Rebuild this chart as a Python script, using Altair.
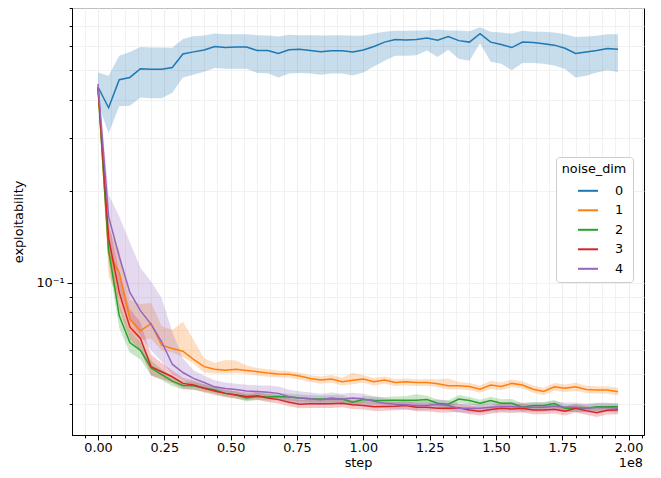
import altair as alt
import pandas as pd

# x positions (training steps) shared by every series
steps = list(range(0, 200_000_000, 4_000_000))

series = ["0", "1", "2", "3", "4"]
colors = ["#1f77b4", "#ff7f0e", "#2ca02c", "#d62728", "#9467bd"]

mean_0 = [0.440, 0.376, 0.465, 0.473, 0.505, 0.503, 0.503, 0.510, 0.565, 0.574,
          0.582, 0.598, 0.593, 0.595, 0.595, 0.580, 0.580, 0.567, 0.583, 0.585,
          0.580, 0.574, 0.579, 0.579, 0.573, 0.582, 0.598, 0.618, 0.630, 0.628,
          0.630, 0.637, 0.627, 0.645, 0.625, 0.618, 0.659, 0.618, 0.607, 0.593,
          0.618, 0.616, 0.610, 0.604, 0.590, 0.567, 0.573, 0.580, 0.589, 0.585]
hi_0 = [0.491, 0.479, 0.557, 0.573, 0.595, 0.593, 0.593, 0.592, 0.633, 0.646,
        0.650, 0.659, 0.656, 0.656, 0.656, 0.651, 0.650, 0.645, 0.653, 0.651,
        0.651, 0.650, 0.651, 0.651, 0.648, 0.650, 0.659, 0.669, 0.673, 0.673,
        0.675, 0.675, 0.680, 0.675, 0.675, 0.671, 0.692, 0.669, 0.664, 0.659,
        0.673, 0.669, 0.668, 0.664, 0.656, 0.642, 0.645, 0.648, 0.656, 0.656]
lo_0 = [0.390, 0.310, 0.380, 0.382, 0.406, 0.404, 0.404, 0.421, 0.473, 0.483,
        0.494, 0.508, 0.505, 0.505, 0.505, 0.489, 0.488, 0.473, 0.487, 0.489,
        0.487, 0.483, 0.487, 0.487, 0.480, 0.491, 0.514, 0.537, 0.557, 0.557,
        0.560, 0.580, 0.552, 0.583, 0.545, 0.537, 0.613, 0.533, 0.525, 0.499,
        0.528, 0.528, 0.525, 0.518, 0.504, 0.473, 0.479, 0.491, 0.499, 0.493]

mean_1 = [0.440, 0.125, 0.108, 0.0760, 0.0695, 0.0734, 0.0624, 0.0608, 0.0596, 0.0560,
          0.0530, 0.0520, 0.0516, 0.0520, 0.0515, 0.0510, 0.0505, 0.0501, 0.0500, 0.0494,
          0.0485, 0.0479, 0.0483, 0.0473, 0.0478, 0.0483, 0.0473, 0.0479, 0.0470, 0.0473,
          0.0470, 0.0470, 0.0466, 0.0459, 0.0459, 0.0456, 0.0447, 0.0461, 0.0456, 0.0467,
          0.0461, 0.0447, 0.0439, 0.0455, 0.0450, 0.0455, 0.0446, 0.0444, 0.0444, 0.0438]
hi_1 = [0.460, 0.150, 0.128, 0.0880, 0.0850, 0.0860, 0.0720, 0.0700, 0.0745, 0.0650,
        0.0565, 0.0545, 0.0557, 0.0555, 0.0535, 0.0525, 0.0520, 0.0515, 0.0513, 0.0506,
        0.0497, 0.0492, 0.0498, 0.0487, 0.0506, 0.0497, 0.0486, 0.0492, 0.0482, 0.0485,
        0.0482, 0.0483, 0.0482, 0.0485, 0.0472, 0.0468, 0.0460, 0.0476, 0.0470, 0.0481,
        0.0475, 0.0460, 0.0452, 0.0468, 0.0463, 0.0469, 0.0459, 0.0457, 0.0457, 0.0451]
lo_1 = [0.420, 0.105, 0.088, 0.0689, 0.0647, 0.0656, 0.0598, 0.0590, 0.0570, 0.0543,
        0.0507, 0.0503, 0.0502, 0.0505, 0.0501, 0.0496, 0.0491, 0.0488, 0.0487, 0.0481,
        0.0472, 0.0466, 0.0469, 0.0460, 0.0464, 0.0469, 0.0460, 0.0466, 0.0458, 0.0460,
        0.0458, 0.0458, 0.0454, 0.0446, 0.0447, 0.0444, 0.0435, 0.0448, 0.0443, 0.0454,
        0.0449, 0.0435, 0.0427, 0.0442, 0.0437, 0.0442, 0.0434, 0.0432, 0.0432, 0.0426]

mean_2 = [0.435, 0.128, 0.078, 0.0636, 0.0600, 0.0525, 0.0499, 0.0475, 0.0460, 0.0459,
          0.0451, 0.0444, 0.0433, 0.0428, 0.0418, 0.0423, 0.0421, 0.0423, 0.0421, 0.0418,
          0.0416, 0.0415, 0.0415, 0.0415, 0.0405, 0.0413, 0.0411, 0.0410, 0.0411, 0.0411,
          0.0411, 0.0413, 0.0402, 0.0399, 0.0415, 0.0410, 0.0402, 0.0410, 0.0402, 0.0402,
          0.0390, 0.0395, 0.0395, 0.0401, 0.0387, 0.0387, 0.0387, 0.0391, 0.0391, 0.0391]
hi_2 = [0.450, 0.140, 0.086, 0.0690, 0.0640, 0.0555, 0.0520, 0.0492, 0.0475, 0.0472,
        0.0463, 0.0456, 0.0444, 0.0439, 0.0429, 0.0434, 0.0432, 0.0434, 0.0432, 0.0429,
        0.0427, 0.0426, 0.0427, 0.0427, 0.0416, 0.0424, 0.0422, 0.0421, 0.0423, 0.0424,
        0.0430, 0.0425, 0.0413, 0.0410, 0.0428, 0.0421, 0.0413, 0.0422, 0.0414, 0.0415,
        0.0401, 0.0406, 0.0406, 0.0412, 0.0398, 0.0398, 0.0398, 0.0402, 0.0402, 0.0402]
lo_2 = [0.420, 0.116, 0.071, 0.0590, 0.0560, 0.0497, 0.0479, 0.0458, 0.0446, 0.0446,
        0.0439, 0.0432, 0.0422, 0.0417, 0.0407, 0.0412, 0.0410, 0.0412, 0.0410, 0.0407,
        0.0405, 0.0404, 0.0404, 0.0404, 0.0394, 0.0402, 0.0400, 0.0399, 0.0400, 0.0400,
        0.0400, 0.0402, 0.0391, 0.0388, 0.0403, 0.0399, 0.0391, 0.0399, 0.0391, 0.0391,
        0.0379, 0.0384, 0.0384, 0.0390, 0.0376, 0.0376, 0.0376, 0.0380, 0.0380, 0.0380]

mean_3 = [0.440, 0.140, 0.093, 0.0716, 0.0656, 0.0530, 0.0510, 0.0491, 0.0467, 0.0461,
          0.0450, 0.0441, 0.0433, 0.0428, 0.0423, 0.0425, 0.0418, 0.0413, 0.0405, 0.0399,
          0.0400, 0.0400, 0.0400, 0.0402, 0.0397, 0.0395, 0.0391, 0.0392, 0.0393, 0.0395,
          0.0390, 0.0390, 0.0387, 0.0387, 0.0388, 0.0382, 0.0378, 0.0383, 0.0387, 0.0385,
          0.0387, 0.0382, 0.0382, 0.0384, 0.0378, 0.0387, 0.0380, 0.0374, 0.0381, 0.0382]
hi_3 = [0.455, 0.160, 0.108, 0.0820, 0.0740, 0.0580, 0.0545, 0.0515, 0.0487, 0.0478,
        0.0465, 0.0455, 0.0446, 0.0441, 0.0436, 0.0438, 0.0431, 0.0426, 0.0418, 0.0412,
        0.0413, 0.0413, 0.0413, 0.0415, 0.0410, 0.0408, 0.0404, 0.0405, 0.0406, 0.0408,
        0.0403, 0.0403, 0.0400, 0.0400, 0.0401, 0.0395, 0.0391, 0.0396, 0.0400, 0.0398,
        0.0400, 0.0395, 0.0395, 0.0397, 0.0391, 0.0400, 0.0393, 0.0387, 0.0394, 0.0395]
lo_3 = [0.425, 0.125, 0.082, 0.0650, 0.0600, 0.0495, 0.0482, 0.0468, 0.0449, 0.0445,
        0.0436, 0.0428, 0.0421, 0.0416, 0.0411, 0.0413, 0.0406, 0.0401, 0.0393, 0.0387,
        0.0388, 0.0388, 0.0388, 0.0390, 0.0385, 0.0383, 0.0379, 0.0380, 0.0381, 0.0383,
        0.0378, 0.0378, 0.0375, 0.0375, 0.0376, 0.0370, 0.0366, 0.0371, 0.0375, 0.0373,
        0.0375, 0.0370, 0.0370, 0.0372, 0.0366, 0.0375, 0.0368, 0.0362, 0.0369, 0.0370]

mean_4 = [0.450, 0.165, 0.122, 0.0930, 0.0810, 0.0730, 0.0640, 0.0540, 0.0507, 0.0485,
          0.0470, 0.0455, 0.0449, 0.0446, 0.0441, 0.0439, 0.0437, 0.0433, 0.0422, 0.0418,
          0.0416, 0.0413, 0.0418, 0.0414, 0.0418, 0.0415, 0.0408, 0.0402, 0.0399, 0.0397,
          0.0395, 0.0395, 0.0399, 0.0395, 0.0387, 0.0387, 0.0387, 0.0390, 0.0391, 0.0391,
          0.0390, 0.0390, 0.0390, 0.0393, 0.0390, 0.0390, 0.0387, 0.0389, 0.0389, 0.0387]
hi_4 = [0.465, 0.195, 0.165, 0.1360, 0.1120, 0.1010, 0.0890, 0.0690, 0.0565, 0.0516,
        0.0495, 0.0478, 0.0470, 0.0466, 0.0462, 0.0460, 0.0460, 0.0456, 0.0445, 0.0440,
        0.0436, 0.0432, 0.0436, 0.0432, 0.0435, 0.0432, 0.0424, 0.0417, 0.0413, 0.0411,
        0.0409, 0.0409, 0.0414, 0.0410, 0.0401, 0.0401, 0.0401, 0.0404, 0.0405, 0.0405,
        0.0404, 0.0404, 0.0404, 0.0407, 0.0404, 0.0404, 0.0401, 0.0403, 0.0403, 0.0401]
lo_4 = [0.435, 0.140, 0.095, 0.0760, 0.0670, 0.0600, 0.0550, 0.0500, 0.0478, 0.0462,
        0.0450, 0.0437, 0.0431, 0.0428, 0.0423, 0.0421, 0.0419, 0.0415, 0.0405, 0.0401,
        0.0399, 0.0396, 0.0401, 0.0397, 0.0401, 0.0398, 0.0392, 0.0387, 0.0385, 0.0383,
        0.0381, 0.0381, 0.0385, 0.0381, 0.0374, 0.0374, 0.0374, 0.0377, 0.0378, 0.0378,
        0.0377, 0.0377, 0.0377, 0.0380, 0.0377, 0.0377, 0.0374, 0.0376, 0.0376, 0.0374]

x_major_ticks = [0, 25_000_000, 50_000_000, 75_000_000, 100_000_000,
                 125_000_000, 150_000_000, 175_000_000, 200_000_000]
x_minor_ticks = list(range(-5_000_000, 206_000_000, 5_000_000))
y_major_ticks = [0.1]
y_minor_ticks = [0.04, 0.05, 0.06, 0.07, 0.08, 0.09, 0.2, 0.3, 0.4, 0.5, 0.6, 0.7, 0.8]
x_domain = [-9_800_000, 205_800_000]
y_domain = [0.0316, 0.80]

means = [mean_0, mean_1, mean_2, mean_3, mean_4]
his = [hi_0, hi_1, hi_2, hi_3, hi_4]
los = [lo_0, lo_1, lo_2, lo_3, lo_4]

rows = []
for s, m, h, l in zip(series, means, his, los):
    for st, mv, hv, lv in zip(steps, m, h, l):
        rows.append({"step": st, "mean": mv, "hi": hv, "lo": lv, "noise_dim": s})
df = pd.DataFrame(rows)

FONT = "DejaVu Sans"
FS = 12.8
xs = alt.Scale(domain=x_domain, nice=False, zero=False)
ys = alt.Scale(type="log", domain=y_domain, nice=False)
cs = alt.Scale(domain=series, range=colors)

legend = alt.Legend(
    title="noise_dim", orient="none", legendX=484, legendY=149,
    symbolType="stroke", symbolSize=400, symbolStrokeWidth=2, symbolOpacity=1,
    symbolOffset=13, labelOffset=16, rowPadding=1.5, padding=6,
    titlePadding=4, titleAnchor="middle",
    labelFont=FONT, titleFont=FONT, labelFontSize=FS, titleFontSize=FS,
    titleFontWeight="normal", labelColor="black", titleColor="black",
    strokeColor="#cccccc", fillColor="white", cornerRadius=3,
)

x_major_axis = alt.Axis(values=x_major_ticks, labelExpr="format(datum.value / 1e8, '.2f')",
                        title="step", orient="bottom", tickSize=4.9, labelPadding=1.5,
                        titlePadding=2, grid=True)
y_major_axis = alt.Axis(values=y_major_ticks, labelExpr="'10⁻¹'", title="exploitability",
                        orient="left", tickSize=4.9, labelPadding=3, titlePadding=10, grid=True)
x_minor_axis = alt.Axis(values=x_minor_ticks, labels=False, title=None, orient="bottom",
                        tickSize=2.8, grid=True, domain=False)
y_minor_axis = alt.Axis(values=y_minor_ticks, labels=False, title=None, orient="left",
                        tickSize=2.8, grid=True, domain=False)

base = alt.Chart(df)

band = base.mark_area(opacity=0.25).encode(
    x=alt.X("step:Q", scale=xs, axis=x_major_axis),
    y=alt.Y("lo:Q", scale=ys, axis=y_major_axis),
    y2="hi:Q",
    color=alt.Color("noise_dim:N", scale=cs, legend=legend),
    detail="noise_dim:N",
)

minor = base.mark_line(opacity=0).encode(
    x=alt.X("step:Q", scale=xs, axis=x_minor_axis),
    y=alt.Y("mean:Q", scale=ys, axis=y_minor_axis),
    detail="noise_dim:N",
)

line = base.mark_line(strokeWidth=1.5).encode(
    x=alt.X("step:Q", scale=xs, axis=None),
    y=alt.Y("mean:Q", scale=ys, axis=None),
    color=alt.Color("noise_dim:N", scale=cs, legend=legend),
)

offset_text = alt.Chart(pd.DataFrame({"t": ["1e8"]})).mark_text(
    align="right", baseline="top", font=FONT, fontSize=FS, color="black"
).encode(x=alt.value(571), y=alt.value(448.5), text="t:N")

chart = alt.layer(band, minor, line, offset_text).resolve_axis(
    x="independent", y="independent"
).properties(
    width=572, height=427,
    padding={"left": 64, "top": 0, "right": 9, "bottom": 35},
    autosize=alt.AutoSizeParams(type="none"),
).configure_view(
    stroke="black", strokeWidth=1
).configure_axis(
    labelFont=FONT, titleFont=FONT, labelFontSize=FS, titleFontSize=FS,
    titleFontWeight="normal", labelColor="black", titleColor="black",
    tickColor="black", tickWidth=1, domainColor="black", domainWidth=1,
    gridColor="#eeeeee", gridWidth=0.8,
)

chart.save("out.html", embed_options={"renderer": "svg", "actions": False})
